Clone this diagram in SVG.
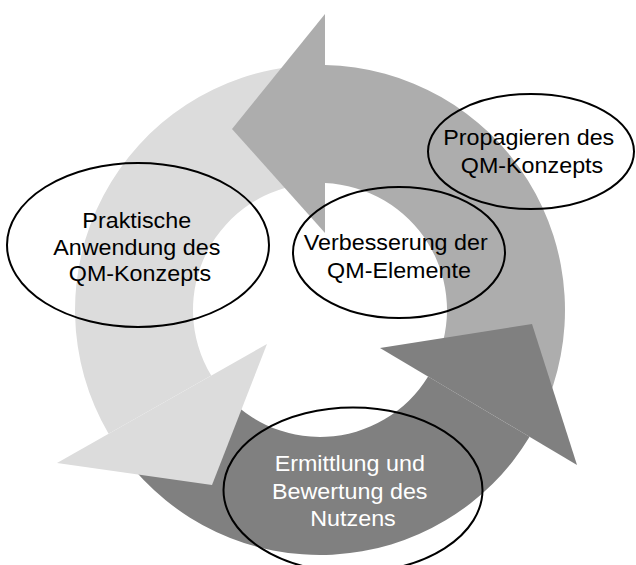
<svg xmlns="http://www.w3.org/2000/svg" width="636" height="565" viewBox="0 0 636 565">
  <style>
    .light { fill: #DCDCDC; }
    .mid { fill: #ADADAD; }
    .dark { fill: #808080; }
    .ring { fill: none; stroke: #000000; stroke-width: 2; }
    .lbl { font-family: "Liberation Sans", Arial, sans-serif; font-size: 22px; text-anchor: middle; fill: #000000; }
    .lbl-inv { fill: #FFFFFF; }
  </style>
  <rect width="636" height="565" fill="#FFFFFF"/>

  <!-- Circular arrows: ring centred at (320,310), outer radius 245, inner radius 127.
       Bodies are painted first, heads afterwards so each head overlaps the next tail. -->
  <g id="cycle-arrows">
    <!-- bodies -->
    <path class="mid" d="M542.04,413.54 A245,245 0 0 0 325,65.05 L325,183.1 A127,127 0 0 1 435.1,363.67 Z"/>
    <path class="light" d="M302.9,65.6 A245,245 0 0 0 108.6,433.8 L211.25,375.6 A127,127 0 0 1 311.1,183.3 Z"/>
    <path class="dark" d="M124.3,457.4 A245,245 0 0 0 529.6,436.85 L428.1,376.6 A127,127 0 0 1 218.6,386.4 Z"/>
    <!-- heads -->
    <polygon class="mid" points="325,14 232,129 325,233"/>
    <polygon class="light" points="267,344 212,485 57,463"/>
    <polygon class="dark" points="380,348 532,324 577,465"/>
  </g>

  <g id="node-anwendung">
    <ellipse class="ring" cx="138" cy="245" rx="131" ry="82"/>
    <text class="lbl" transform="translate(140 0) scale(1.06 1)">
      <tspan x="0" y="228.5">Praktische</tspan>
      <tspan x="0" y="255">Anwendung des</tspan>
      <tspan x="0" y="281.5">QM-Konzepts</tspan>
    </text>
  </g>

  <g id="node-verbesserung">
    <ellipse class="ring" cx="399" cy="252.5" rx="106" ry="65.5"/>
    <text class="lbl" transform="translate(399 0) scale(1.06 1)">
      <tspan x="0" y="250.5">Verbesserung der</tspan>
      <tspan x="0" y="278">QM-Elemente</tspan>
    </text>
  </g>

  <g id="node-propagieren">
    <ellipse class="ring" cx="531" cy="151.5" rx="103" ry="57.5"/>
    <text class="lbl" transform="translate(532 0) scale(1.06 1)">
      <tspan x="0" y="145">Propagieren des</tspan>
      <tspan x="0" y="173">QM-Konzepts</tspan>
    </text>
  </g>

  <g id="node-ermittlung">
    <ellipse class="ring" cx="353" cy="490" rx="129.5" ry="82.5"/>
    <text class="lbl lbl-inv" transform="translate(353 0) scale(1.06 1)">
      <tspan x="0" y="471.5">Ermittlung und</tspan>
      <tspan x="0" y="499">Bewertung des</tspan>
      <tspan x="0" y="526.5">Nutzens</tspan>
    </text>
  </g>
</svg>
